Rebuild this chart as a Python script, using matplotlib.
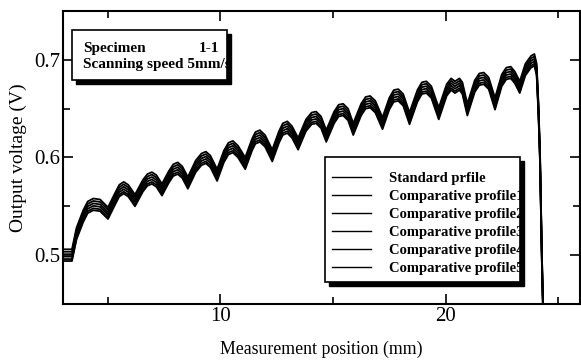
import matplotlib
matplotlib.use("Agg")
import matplotlib.pyplot as plt
from matplotlib.patches import Rectangle
from matplotlib.ticker import MultipleLocator
import matplotlib.transforms as mtransforms

position = [3.0, 3.4, 3.6, 3.9, 4.1, 4.35, 4.65, 5.0,
            5.3, 5.5, 5.7, 5.9, 6.2,
            6.55, 6.75, 6.95, 7.15, 7.4,
            7.7, 7.9, 8.1, 8.3, 8.55,
            8.9, 9.15, 9.35, 9.55, 9.85,
            10.15, 10.35, 10.55, 10.78, 11.1,
            11.4, 11.55, 11.75, 11.98, 12.3,
            12.6, 12.77, 12.97, 13.18, 13.45,
            13.8, 14.05, 14.25, 14.47, 14.7,
            15.05, 15.25, 15.45, 15.67, 15.9,
            16.25, 16.45, 16.65, 16.88, 17.2,
            17.5, 17.7, 17.9, 18.12, 18.4,
            18.75, 18.95, 19.15, 19.37, 19.7,
            20.05, 20.25, 20.42, 20.62, 20.75, 20.97,
            21.3, 21.5, 21.7, 21.92, 22.2,
            22.5, 22.7, 22.9, 23.08, 23.3,
            23.55, 23.8, 23.95, 24.05, 24.13, 24.2, 24.28, 24.38]
standard = [0.500, 0.500, 0.522, 0.540, 0.549, 0.552, 0.551, 0.543,
            0.557, 0.566, 0.569, 0.566, 0.556,
            0.571, 0.577, 0.579, 0.576, 0.567,
            0.580, 0.587, 0.589, 0.585, 0.574,
            0.591, 0.598, 0.600, 0.596, 0.582,
            0.601, 0.609, 0.611, 0.606, 0.594,
            0.613, 0.620, 0.622, 0.617, 0.602,
            0.621, 0.629, 0.631, 0.626, 0.614,
            0.633, 0.640, 0.641, 0.636, 0.622,
            0.641, 0.648, 0.649, 0.644, 0.629,
            0.649, 0.656, 0.657, 0.652, 0.635,
            0.655, 0.663, 0.664, 0.659, 0.640,
            0.663, 0.671, 0.672, 0.667, 0.645,
            0.669, 0.675, 0.672, 0.675, 0.671, 0.649,
            0.673, 0.680, 0.681, 0.676, 0.655,
            0.679, 0.686, 0.687, 0.682, 0.672,
            0.690, 0.698, 0.700, 0.690, 0.650, 0.600, 0.500, 0.400]

# deviation of each comparative profile from the standard one (V)
profile_shift = [0.006, 0.0035, 0.001, -0.0015, -0.004, -0.006]
profile_names = ["Standard prfile", "Comparative profile1", "Comparative profile2",
                 "Comparative profile3", "Comparative profile4", "Comparative profile5"]

plt.rcParams['font.family'] = ['Liberation Serif', 'DejaVu Serif']

fig = plt.figure(figsize=(5.81, 3.6), dpi=100)
ax = fig.add_axes([0.1084, 0.1556, 0.8896, 0.8138])

for name, shift in zip(profile_names, profile_shift):
    ax.plot(position, [v + shift for v in standard], color='black', lw=1.3, label=name)

ax.set_xlim(3, 25.97)
ax.set_ylim(0.45, 0.75)
ax.xaxis.set_major_locator(MultipleLocator(10))
ax.xaxis.set_minor_locator(MultipleLocator(5))
ax.yaxis.set_major_locator(MultipleLocator(0.1))
ax.yaxis.set_minor_locator(MultipleLocator(0.05))
ax.tick_params(which='both', direction='in', top=True, right=True, width=1.2,
               labelsize=15, pad=2)
ax.tick_params(which='major', length=7)
ax.tick_params(which='minor', length=5)
for sp in ax.spines.values():
    sp.set_linewidth(1.5)

ax.set_xlabel("Measurement position (mm)", fontsize=12.8, labelpad=11)
ax.set_ylabel("Output voltage (V)", fontsize=14, labelpad=5)

# info box with drop shadow, text clipped at the right edge like the original
shadow_off = mtransforms.offset_copy(ax.transAxes, fig=fig, x=4, y=-4, units='dots')
ax.add_patch(Rectangle((0.017, 0.765), 0.300, 0.170, transform=shadow_off,
                       facecolor='black', edgecolor='black', zorder=5))
info = Rectangle((0.017, 0.765), 0.300, 0.170, transform=ax.transAxes,
                 facecolor='white', edgecolor='black', lw=1.2, zorder=6)
ax.add_patch(info)
for txt, x, y in [("Specimen", 0.039, 0.872), ("1-1", 0.262, 0.872),
                  ("Scanning speed 5mm/s", 0.039, 0.818)]:
    t = ax.text(x, y, txt, transform=ax.transAxes, fontsize=11, fontweight='bold',
                va='center', ha='left', zorder=7)
    t.set_clip_path(info)

# legend box with drop shadow
ax.add_patch(Rectangle((0.507, 0.075), 0.377, 0.427, transform=shadow_off,
                       facecolor='black', edgecolor='black', zorder=5))
ax.add_patch(Rectangle((0.507, 0.075), 0.377, 0.427, transform=ax.transAxes,
                       facecolor='white', edgecolor='black', lw=1.2, zorder=6))
leg = ax.legend(loc='upper left', bbox_to_anchor=(0.515, 0.462), frameon=False,
                prop={'size': 10.5, 'weight': 'bold'}, handlelength=2.7,
                handletextpad=1.2, labelspacing=0.33, borderpad=0.2, borderaxespad=0)
for line in leg.get_lines():
    line.set_linewidth(1.0)
leg.set_zorder(8)

fig.savefig("out.png", dpi=100)
